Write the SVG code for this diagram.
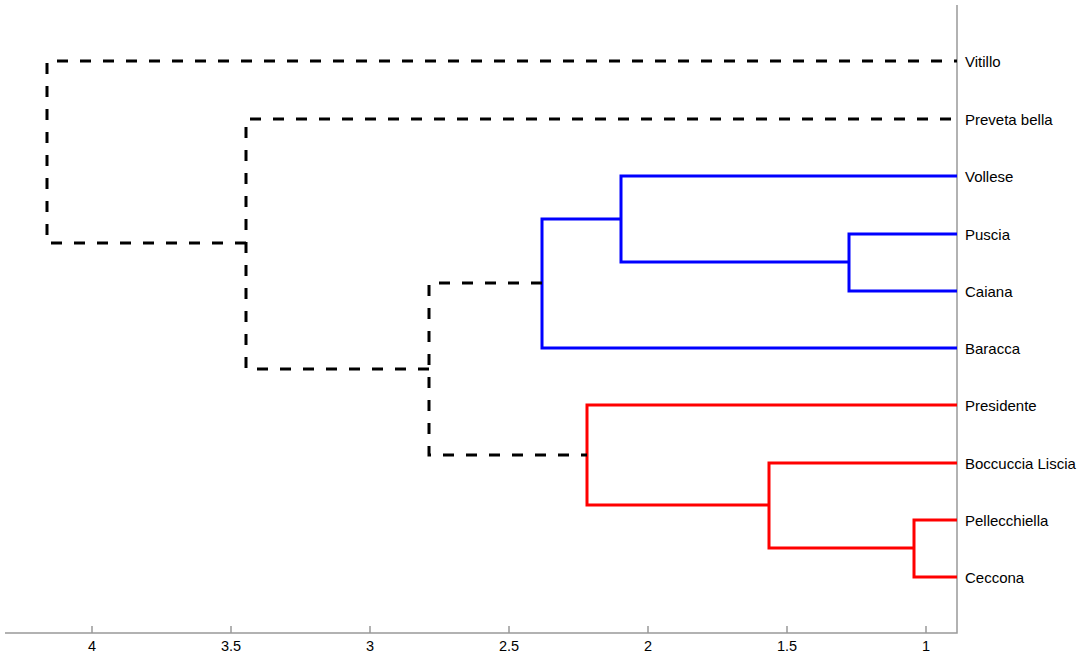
<svg xmlns="http://www.w3.org/2000/svg" width="1084" height="660" viewBox="0 0 1084 660">
<style>
text{font-family:"Liberation Sans",Arial,sans-serif;font-size:15px;fill:#000}
.tick{text-anchor:middle;font-size:14.5px}
.leaf{dominant-baseline:central}
.blk{fill:none;stroke:#000;stroke-width:3;stroke-dasharray:11 12}
.blu{fill:none;stroke:#0000ff;stroke-width:3}
.red{fill:none;stroke:#ff0000;stroke-width:3}
.ax{fill:none;stroke:#999;stroke-width:1.5}
</style>
<rect width="1084" height="660" fill="#fff"/>
<g id="axes">
<path class="ax" d="M5 633H957V5"/>
<path class="ax" d="M92 633v-7M231 633v-7M370 633v-7M509 633v-7M648 633v-7M787 633v-7M926 633v-7"/>
<text class="tick" x="92" y="651">4</text>
<text class="tick" x="231" y="651">3.5</text>
<text class="tick" x="370" y="651">3</text>
<text class="tick" x="509" y="651">2.5</text>
<text class="tick" x="648" y="651">2</text>
<text class="tick" x="787" y="651">1.5</text>
<text class="tick" x="926" y="651">1</text>
</g>
<g id="connectors">
<path class="red" d="M957 520H914V577H957"/>
<path class="red" d="M914 548H769V463H957"/>
<path class="red" d="M769 505H587V405H957"/>
<path class="blu" d="M957 234H849V291H957"/>
<path class="blu" d="M849 262H621V176H957"/>
<path class="blu" d="M621 219H542V348H957"/>
<path class="blk" d="M542 283H429V455H587"/>
<path class="blk" d="M429 369H246V119H957"/>
<path class="blk" d="M246 243H47V61H957"/>
</g>
<g id="n-vitillo"><text class="leaf" x="965" y="61">Vitillo</text></g>
<g id="n-preveta"><text class="leaf" x="965" y="119">Preveta bella</text></g>
<g id="n-vollese"><text class="leaf" x="965" y="176">Vollese</text></g>
<g id="n-puscia"><text class="leaf" x="965" y="234">Puscia</text></g>
<g id="n-caiana"><text class="leaf" x="965" y="291">Caiana</text></g>
<g id="n-baracca"><text class="leaf" x="965" y="348">Baracca</text></g>
<g id="n-presidente"><text class="leaf" x="965" y="405">Presidente</text></g>
<g id="n-boccuccia"><text class="leaf" x="965" y="463">Boccuccia Liscia</text></g>
<g id="n-pellecchiella"><text class="leaf" x="965" y="520">Pellecchiella</text></g>
<g id="n-ceccona"><text class="leaf" x="965" y="577">Ceccona</text></g>
</svg>
